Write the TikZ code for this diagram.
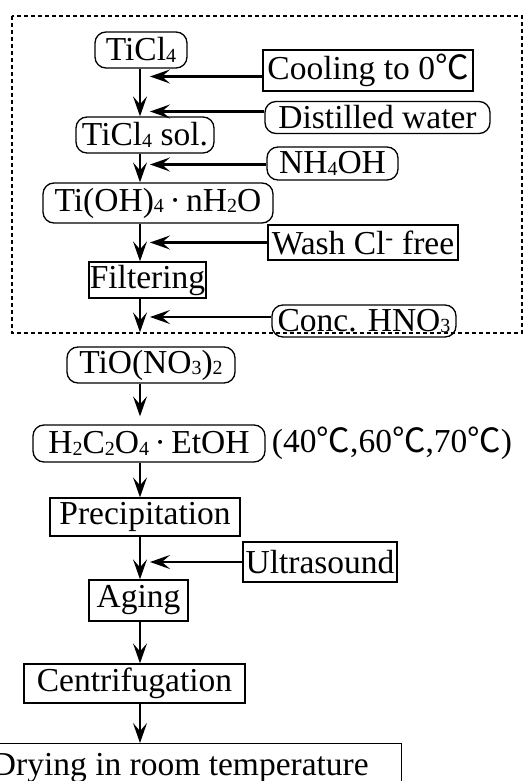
\documentclass[tikz,border=0pt]{standalone}
\usepackage{fontspec}
\setmainfont{Liberation Serif}
\newfontfamily\cjk{Noto Sans CJK SC}
\usetikzlibrary{arrows.meta}
\newcommand\chsub[1]{\raisebox{-1.5pt}{\fontsize{20}{20}\selectfont #1}}
\newcommand\degc{{\cjk\addfontfeature{FakeBold=0}℃}}

\begin{document}
\begin{tikzpicture}[x=1pt, y=-1pt,
  every node/.style={font=\fontsize{33.5}{35}\selectfont, inner sep=0pt},
  rbox/.style={draw, line width=1.3pt, rounded corners=11pt},
  sbox/.style={draw, line width=1.3pt},
  flow/.style={line width=1.5pt, -{Stealth[length=20pt, width=14pt, inset=8pt]}},
  feedflow/.style={flow, line width=2.2pt}]
\useasboundingbox (0,0) rectangle (527,781);
\clip (0,0) rectangle (527,781);
\draw[line width=1.4pt, dash pattern=on 4pt off 3pt] (12,16) rectangle (522,333);
\coordinate (spine) at (140,0);
\coordinate (feed) at (150,0);
\node[rbox, minimum width=92pt, minimum height=36pt] (ticl) at (141,50) {TiCl\chsub{4}};
\node[sbox, minimum width=210pt, minimum height=41pt] (cool) at (368,70.5) {Cooling to 0\degc};
\node[rbox, minimum width=225pt, minimum height=32pt] (water) at (377.5,117.5) {Distilled water};
\node[rbox, minimum width=138pt, minimum height=36pt] (sol) at (145,135) {TiCl\chsub{4} sol.};
\node[rbox, minimum width=131pt, minimum height=33pt] (nh) at (332.5,163.5) {NH\chsub{4}OH};
\node[rbox, minimum width=230pt, minimum height=40pt] (tioh) at (158,203) {Ti(OH)\chsub{4}\,·\,nH\chsub{2}O};
\node[sbox, minimum width=190pt, minimum height=35pt] (wash) at (363,242.5) {Wash Cl\textsuperscript{-} free};
\node[sbox, minimum width=117pt, minimum height=36pt] (filt) at (147.5,280) {Filtering};
\node[rbox, minimum width=184pt, minimum height=32pt] (conc) at (364,321) {Conc. HNO\chsub{3}};
\node[rbox, minimum width=168pt, minimum height=36pt] (tion) at (151,365) {TiO(NO\chsub{3})\chsub{2}};
\node[rbox, minimum width=232pt, minimum height=37pt] (oxal) at (149,443.5) {H\chsub{2}C\chsub{2}O\chsub{4}\,·\,EtOH};
\node (temps) at (392,443) {(40\degc,60\degc,70\degc)};
\node[sbox, minimum width=190pt, minimum height=38pt] (prec) at (145,517) {Precipitation};
\node[sbox, minimum width=154pt, minimum height=40pt] (ultra) at (320,562) {Ultrasound};
\node[sbox, minimum width=99pt, minimum height=41pt] (aging) at (138.5,600.5) {Aging};
\node[sbox, minimum width=221pt, minimum height=39pt] (centr) at (134.5,683.5) {Centrifugation};
\node[sbox, minimum width=442pt, minimum height=48pt, anchor=north east] (dry) at (402,743) {Drying in room temperature};
\foreach \a/\b in {ticl/sol, sol/tioh, tioh/filt, oxal/prec, prec/aging, aging/centr, centr/dry}
  \draw[flow] (\a.south -| spine) -- (\b.north -| spine);
\draw[flow, shorten >=14pt] (filt.south -| spine) -- (tion.north -| spine);
\draw[flow, shorten >=8pt] (tion.south -| spine) -- (oxal.north -| spine);
\foreach \n/\d in {cool/-6, water/6, nh/-1, wash/0, conc/4, ultra/0}
  \draw[feedflow] ([yshift=\d pt]\n.west) -- ([yshift=\d pt]\n.west -| feed);
\end{tikzpicture}
\end{document}
